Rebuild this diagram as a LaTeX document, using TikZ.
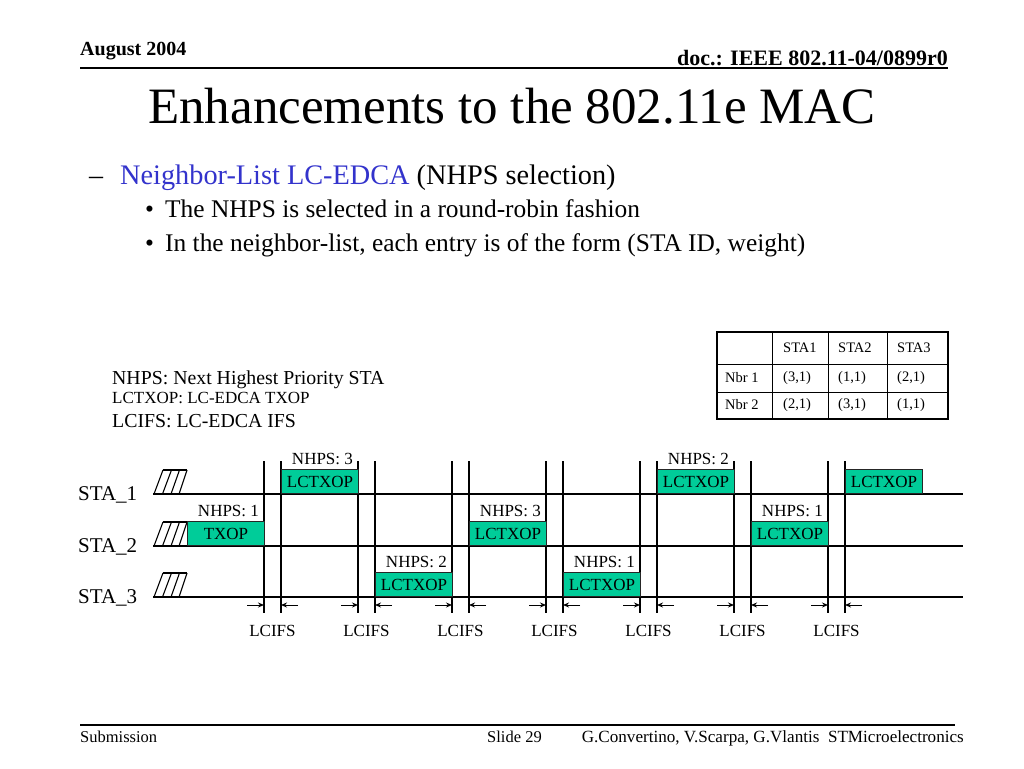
\documentclass[tikz,border=0pt]{standalone}
\usepackage{fontspec}
\setmainfont{Liberation Serif}
\usetikzlibrary{arrows.meta,calc}
\definecolor{boxgreen}{RGB}{0,204,153}
\definecolor{bulletblue}{RGB}{51,51,204}
\newcommand{\fsz}[1]{\fontsize{#1}{#1}\selectfont}
\begin{document}
\begin{tikzpicture}[x=1pt,y=-1pt,
  txt/.style={inner sep=0pt, anchor=base west},
  ctxt/.style={inner sep=0pt, anchor=base},
  rtxt/.style={inner sep=0pt, anchor=base east},
  rule/.style={line width=1.3pt},
  staline/.style={line width=1.2pt},
  vline/.style={line width=1.2pt},
  hatch/.style={line width=1.1pt},
  slot/.style={draw=black!85, fill=boxgreen, line width=0.9pt, minimum width=77pt, minimum height=24pt, inner sep=0pt, anchor=south west, font=\fsz{17}},
  ifsarrow/.style={line width=1pt, -{Stealth[length=6pt,width=5pt]}},
  tabouter/.style={line width=2pt},
  tabinner/.style={line width=0.8pt},
  tabtxt/.style={inner sep=0pt, anchor=west, font=\fsz{14.5}}
]
\useasboundingbox[fill=white] (0,0) rectangle (1024,768);

% header
\node[txt, font=\fsz{20}\bfseries] (date) at (80,56) {August 2004};
\node[rtxt, font=\fsz{22}\bfseries] (doc) at (948,65) {doc.: IEEE 802.11-04/0899r0};
\coordinate (hl) at (80,68); \coordinate (hr) at (948,68);
\draw[rule] (hl) -- (hr);

% title
\node[ctxt, font=\fsz{51}] (title) at (512,123) {Enhancements to the 802.11e MAC};

% bullets
\node[txt, font=\fsz{28}] (dash) at (89,184) {–};
\node[txt, font=\fsz{28.3}] (b1) at (120,184) {\textcolor{bulletblue}{Neighbor-List LC-EDCA} (NHPS selection)};
\node[txt, font=\fsz{25.4}] (dot1) at (145,217) {•};
\node[txt, font=\fsz{25.4}] (b2) at (165,217) {The NHPS is selected in a round-robin fashion};
\node[txt, font=\fsz{25.4}] (dot2) at (145,251) {•};
\node[txt, font=\fsz{25.4}] (b3) at (165,251) {In the neighbor-list, each entry is of the form (STA ID, weight)};

% legend
\node[txt, font=\fsz{19.8}] (lg1) at (112,384) {NHPS: Next Highest Priority STA};
\node[txt, font=\fsz{17}] (lg2) at (112,403) {LCTXOP: LC-EDCA TXOP};
\node[txt, font=\fsz{19.8}] (lg3) at (112,427) {LCIFS: LC-EDCA IFS};

% table
\draw[tabinner] (717,364) -- (948,364);
\draw[tabinner] (717,392) -- (948,392);
\draw[tabinner] (772,332) -- (772,419);
\draw[tabinner] (828,332) -- (828,419);
\draw[tabinner] (887,332) -- (887,419);
\draw[tabouter] (717,332) rectangle (948,419);
\node[tabtxt] (h1) at (783,348) {STA1};
\node[tabtxt] (h2) at (838,348) {STA2};
\node[tabtxt] (h3) at (897,348) {STA3};
\node[tabtxt] (r1) at (725,378) {Nbr 1};
\node[tabtxt] (c11) at (783,378) {(3,1)};
\node[tabtxt] (c12) at (838,378) {(1,1)};
\node[tabtxt] (c13) at (897,378) {(2,1)};
\node[tabtxt] (r2) at (725,405) {Nbr 2};
\node[tabtxt] (c21) at (783,405) {(2,1)};
\node[tabtxt] (c22) at (838,405) {(3,1)};
\node[tabtxt] (c23) at (897,405) {(1,1)};

% stations
\foreach \yb/\n in {494/1,546/2,597/3} {
  \node[txt, font=\fsz{21}] (sta\n) at (78,\yb+6) {STA\_\n};
  \coordinate (sl\n) at (153,\yb); \coordinate (sr\n) at (963,\yb);
  \draw[staline] (sl\n) -- (sr\n);
  \draw[hatch] (163,\yb-24) -- (187,\yb-24);
  \draw[hatch] (154,\yb) -- (163,\yb-24);
  \draw[hatch] (162.5,\yb) -- (171.5,\yb-24);
  \draw[hatch] (171,\yb) -- (179.5,\yb-24);
  \draw[hatch] (179,\yb) -- (187,\yb-24);
}

% IFS gaps
\foreach \xl/\xr [count=\i] in {264/281,358/375,452/469,546/563,640/657,734/751,828/845} {
  \coordinate (Lt\i) at (\xl,461); \coordinate (Lb\i) at (\xl,613);
  \coordinate (Rt\i) at (\xr,461); \coordinate (Rb\i) at (\xr,613);
  \draw[vline] (Lt\i) -- (Lb\i);
  \draw[vline] (Rt\i) -- (Rb\i);
  \coordinate (La\i) at (\xl-17,605); \coordinate (Lh\i) at (\xl,605);
  \coordinate (Ra\i) at (\xr+17,605); \coordinate (Rh\i) at (\xr,605);
  \draw[ifsarrow] (La\i) -- (Lh\i);
  \draw[ifsarrow] (Ra\i) -- (Rh\i);
  \node[ctxt, font=\fsz{17}] (ifs\i) at ({(\xl+\xr)/2},636) {LCIFS};
}

% transmissions
\foreach \x/\y/\t/\lab [count=\k] in {187/546/TXOP/NHPS: 1, 281/494/LCTXOP/NHPS: 3, 375/597/LCTXOP/NHPS: 2, 469/546/LCTXOP/NHPS: 3, 563/597/LCTXOP/NHPS: 1, 657/494/LCTXOP/NHPS: 2, 751/546/LCTXOP/NHPS: 1} {
  \node[slot] (tx\k) at (\x,\y) {\t};
  \node[ctxt, font=\fsz{17}] (nh\k) at ($(tx\k.north)+(2.5,-4.5)$) {\lab};
}
\node[slot] (tx8) at (845,494) {LCTXOP};

% footer
\coordinate (fl) at (80,725); \coordinate (fr) at (955,725);
\draw[rule] (fl) -- (fr);
\node[txt, font=\fsz{16.5}] (sub) at (80,742) {Submission};
\node[txt, font=\fsz{16.5}] (slide) at (487,742) {Slide 29};
\node[rtxt, font=\fsz{17.1}] (auth) at (964,742) {G.Convertino, V.Scarpa, G.Vlantis\ \ STMicroelectronics};
\end{tikzpicture}
\end{document}
